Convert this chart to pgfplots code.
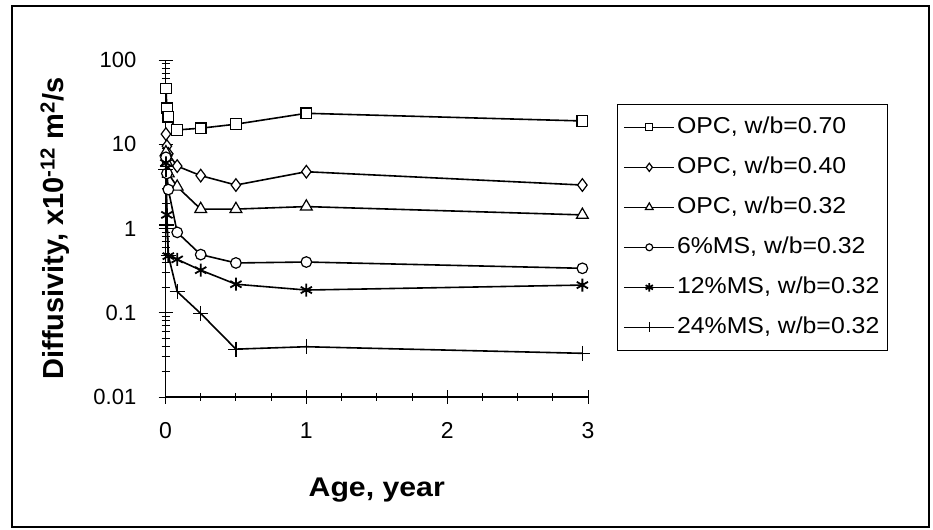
\documentclass[border=0pt]{standalone}
\usepackage{pgfplots}
\pgfplotsset{compat=1.18}
\usepackage{fontspec}
\setmainfont{Liberation Sans}
\newfontfamily\widefont{Liberation Sans}[FakeStretch=1.08]
\newfontfamily\widerfont{Liberation Sans}[FakeStretch=1.12]
\begin{document}
\begin{tikzpicture}[x=1bp,y=1bp]
\useasboundingbox (0,0) rectangle (933,530);
\draw[line width=1.5bp] (12,3) rectangle (929,524);
\begin{axis}[
  at={(165.5bp,133bp)}, anchor=south west,
  scale only axis, width=422.5bp, height=337bp,
  xmin=0, xmax=3, ymin=0.01, ymax=100, ymode=log,
  axis lines=left, axis line style={-, line width=1.1bp},
  clip=false,
  xtick={0,1,2,3}, xticklabels={0,1,2,3}, minor x tick num=3,
  ytick={0.01,0.1,1,10,100}, yticklabels={0.01,0.1,1,10,100},
  minor ytick={0.02,0.03,0.04,0.05,0.06,0.07,0.08,0.09,0.2,0.3,0.4,0.5,0.6,0.7,0.8,0.9,2,3,4,5,6,7,8,9,20,30,40,50,60,70,80,90},
  tick align=center, major tick length=14bp, minor tick length=8bp,
  tick style={black, line width=0.9bp},
  xticklabel style={font=\fontsize{23bp}{27bp}\selectfont, inner sep=0pt, anchor=north, yshift=-18bp},
  yticklabel style={font=\fontsize{22bp}{26bp}\selectfont, inner sep=0pt, anchor=east, xshift=-22bp},
  xlabel={Age, year},
  xlabel style={at={(axis description cs:0.5,-0.276)}, anchor=center, font=\widerfont\bfseries\fontsize{27bp}{31bp}\selectfont},
  ylabel={Diffusivity, x10\textsuperscript{-12} m\textsuperscript{2}/s},
  ylabel style={at={(axis description cs:-0.2615,0.5)}, anchor=center, font=\bfseries\fontsize{29bp}{33bp}\selectfont},
  every axis plot/.append style={black, line width=1.6bp},
  legend cell align=left,
  legend image code/.code={\draw[mark repeat=2,mark phase=2,every mark/.append style={scale=0.65}] plot coordinates {(0bp,0bp)(25bp,0bp)(50bp,0bp)};},
  legend style={at={(1.0686,0.8700)}, anchor=north west, draw=black, line width=1bp,
    font=\widefont\fontsize{23bp}{27bp}\selectfont, inner xsep=6bp, inner ysep=11bp, row sep=16bp,
    nodes={inner sep=2bp, text height=16bp, text depth=4bp}},
]
\addplot[mark=square*, mark size=5.3bp, mark options={fill=white, solid, line width=1.2bp}] coordinates {
(0.003,46) (0.010,26.7) (0.020,21.2) (0.083,14.8) (0.25,15.5) (0.5,17.3) (1.0,23.3) (2.96,18.9)};
\addlegendentry{OPC, w/b=0.70}
\addplot[mark=diamond*, mark size=6.3bp, mark options={fill=white, solid, line width=1.2bp}] coordinates {
(0.003,13.2) (0.010,9.5) (0.020,7.7) (0.083,5.5) (0.25,4.24) (0.5,3.28) (1.0,4.72) (2.96,3.28)};
\addlegendentry{OPC, w/b=0.40}
\addplot[mark=triangle*, mark size=6.8bp, mark options={fill=white, solid, line width=1.2bp}] coordinates {
(0.003,8.0) (0.010,6.0) (0.020,4.5) (0.083,3.13) (0.25,1.70) (0.5,1.70) (1.0,1.82) (2.96,1.45)};
\addlegendentry{OPC, w/b=0.32}
\addplot[mark=*, mark size=5.3bp, mark options={fill=white, solid, line width=1.2bp}] coordinates {
(0.003,7.0) (0.010,4.5) (0.020,2.9) (0.083,0.90) (0.25,0.49) (0.5,0.39) (1.0,0.40) (2.96,0.337)};
\addlegendentry{6\%MS, w/b=0.32}
\addplot[mark=asterisk, mark size=6.5bp, mark options={solid, line width=1.8bp}] coordinates {
(0.003,6.0) (0.010,1.45) (0.020,0.47) (0.083,0.43) (0.25,0.32) (0.5,0.218) (1.0,0.186) (2.96,0.213)};
\addlegendentry{12\%MS, w/b=0.32}
\addplot[mark=+, mark size=7.5bp, mark options={solid, line width=1.2bp}] coordinates {
(0.003,5.0) (0.010,1.1) (0.020,0.48) (0.083,0.178) (0.25,0.098) (0.5,0.037) (1.0,0.0395) (2.96,0.033)};
\addlegendentry{24\%MS, w/b=0.32}
\end{axis}
\end{tikzpicture}
\end{document}
